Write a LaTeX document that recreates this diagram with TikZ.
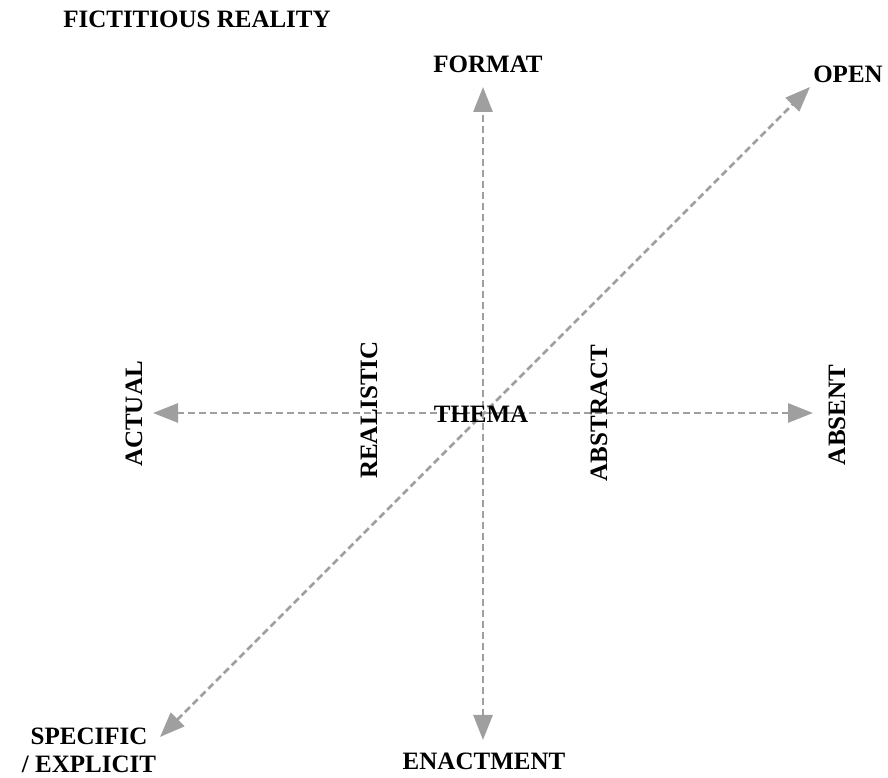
\documentclass[tikz,border=0pt]{standalone}
\usepackage{fontspec}
\setmainfont{Liberation Serif}
\usetikzlibrary{arrows.meta}

\begin{document}
\begin{tikzpicture}[x=1pt, y=1pt,
        lbl/.style={font=\fontsize{25}{28}\selectfont\bfseries, inner sep=0pt,
                    anchor=base, align=center},
        vlbl/.style={lbl, rotate=90},
        axis/.style={draw=gray!75, line width=2.8pt, dash pattern=on 7pt off 4pt,
                     {Triangle[length=25pt, width=19pt, fill=gray!75]}-{Triangle[length=25pt, width=19pt, fill=gray!75]}}
    ]
        \useasboundingbox (0,0) rectangle (888,778);

        % arrow ends
        \coordinate (fmt)  at (483, 691);
        \coordinate (enc)  at (483, 38);
        \coordinate (act)  at (153, 365);
        \coordinate (abs)  at (813, 365);
        \coordinate (opn)  at (810, 691);
        \coordinate (spc)  at (160, 41);

        \draw[axis] (enc) -- (fmt);
        \draw[axis] (act) -- (abs);
        \draw[axis] (spc) -- (opn);

        % labels
        \node[lbl] (title)  at (197, 750) {FICTITIOUS REALITY};
        \node[lbl] (format) at (488, 705) {FORMAT};
        \node[lbl] (open)   at (848, 695) {OPEN};
        \node[lbl] (thema)  at (481, 355) {THEMA};
        \node[lbl] (enact)  at (484, 8)   {ENACTMENT};
        \node[lbl] (spec)   at (89, 5)    {SPECIFIC\\/ EXPLICIT};

        \node[vlbl] (actual)    at (142, 364) {ACTUAL};
        \node[vlbl] (realistic) at (377, 368) {REALISTIC};
        \node[vlbl] (abstract)  at (607, 365) {ABSTRACT};
        \node[vlbl] (absent)    at (845, 363) {ABSENT};
    \end{tikzpicture}
\end{document}
